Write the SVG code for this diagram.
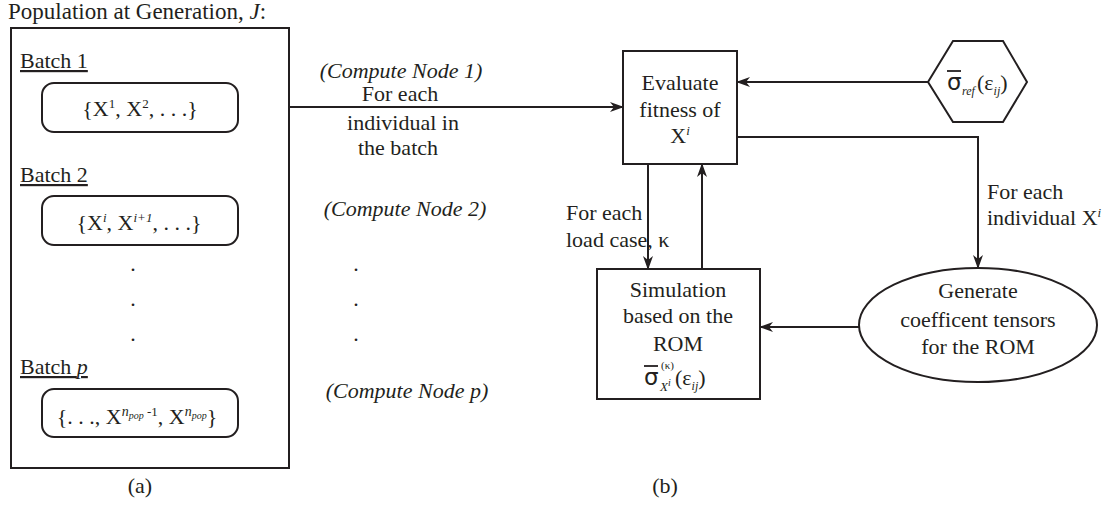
<svg xmlns="http://www.w3.org/2000/svg" width="1112" height="505" viewBox="0 0 1112 505">
<style>
text{font-family:"Liberation Serif","Times New Roman",serif;font-size:22px;fill:#231f20}
.c{text-anchor:middle}
.it{font-style:italic}
.sh{fill:none;stroke:#231f20;stroke-width:2}
.ln{fill:none;stroke:#231f20;stroke-width:2}
.arr{marker-end:url(#ah)}
.u{text-decoration:underline}
.sg{font-family:"DejaVu Sans",sans-serif;font-size:23px}
.s14{font-size:14px}
.s13{font-size:13px}
.s12{font-size:12px}
.s11{font-size:11px}
.s10{font-size:10px}
.s22{font-size:22px}
</style>
<defs>
<marker id="ah" viewBox="0 0 14 10" refX="13" refY="5" markerWidth="14" markerHeight="10" markerUnits="userSpaceOnUse" orient="auto">
<path d="M0,0 L14,5 L0,10 L4,5 z" fill="#231f20"/>
</marker>
</defs>
<text x="8" y="19" style="font-size:23px">Population at Generation, <tspan class="it">J</tspan>:</text>
<g id="population">
<rect class="sh" x="11" y="28" width="278" height="440"/>
<text x="20" y="68" class="u">Batch 1</text>
<text x="20" y="182" class="u">Batch 2</text>
<text x="20" y="374" class="u">Batch <tspan class="it">p</tspan></text>
<text x="133" y="271" class="c">.</text>
<text x="133" y="306" class="c">.</text>
<text x="133" y="341" class="c">.</text>
</g>
<g id="batch1">
<rect class="sh" x="42" y="83" width="196" height="49" rx="12"/>
<text x="140" y="116" class="c">{X<tspan dy="-8" class="s13">1</tspan><tspan dy="8">, X</tspan><tspan dy="-8" class="s13">2</tspan><tspan dy="8">, . . .}</tspan></text>
</g>
<g id="batch2">
<rect class="sh" x="42" y="196" width="196" height="49" rx="12"/>
<text x="139" y="230" class="c">{X<tspan dy="-8" class="s13 it">i</tspan><tspan dy="8">, X</tspan><tspan dy="-8" class="s13 it">i+1</tspan><tspan dy="8">, . . .}</tspan></text>
</g>
<g id="batchp">
<rect class="sh" x="42" y="389" width="196" height="48" rx="12"/>
<text x="137" y="424" class="c">{. . ., X<tspan dy="-8" class="s14 it">n</tspan><tspan dy="3" class="s10 it">pop</tspan><tspan dy="-3" class="s13"> -1</tspan><tspan dy="8">, X</tspan><tspan dy="-8" class="s14 it">n</tspan><tspan dy="3" class="s10 it">pop</tspan><tspan dy="5">}</tspan></text>
</g>
<text x="140" y="493" class="c">(a)</text>
<g id="labels">
<text x="401" y="78" class="c it">(Compute Node 1)</text>
<text x="400" y="101" class="c">For each</text>
<text x="403" y="130" class="c">individual in</text>
<text x="398" y="155" class="c">the batch</text>
<text x="405" y="216" class="c it">(Compute Node 2)</text>
<text x="356" y="271" class="c">.</text>
<text x="356" y="306" class="c">.</text>
<text x="356" y="341" class="c">.</text>
<text x="407" y="398" class="c it">(Compute Node p)</text>
<text x="566" y="220">For each</text>
<text x="566" y="247">load case, κ</text>
<text x="987" y="199">For each</text>
<text x="987" y="225">individual X<tspan dy="-8" class="s13 it">i</tspan></text>
</g>
<g id="connectors">
<line class="ln arr" x1="289" y1="107" x2="623" y2="107"/>
<line class="ln arr" x1="928" y1="82" x2="737" y2="82"/>
<path class="ln arr" d="M737,137 H978 V268"/>
<line class="ln arr" x1="859" y1="327" x2="760" y2="327"/>
<line class="ln arr" x1="648" y1="164" x2="648" y2="269"/>
<line class="ln arr" x1="702" y1="269" x2="702" y2="164"/>
</g>
<g id="evaluate">
<rect class="sh" x="623" y="51" width="114" height="113"/>
<text x="680" y="90" class="c">Evaluate</text>
<text x="680" y="117" class="c">fitness of</text>
<text x="680" y="143" class="c">X<tspan dy="-8" class="s13 it">i</tspan></text>
</g>
<g id="reference">
<polygon class="sh" points="928,82 953,41 1003,41 1027,82 1003,122 953,122"/>
<text x="947" y="90" class="sg">σ</text>
<line x1="947" y1="71" x2="961" y2="71" stroke="#231f20" stroke-width="1.8"/>
<text x="962" y="95" class="it s12">ref</text>
<text x="977" y="90">(<tspan class="s22">ε</tspan><tspan dy="5" class="s12 it">ij</tspan><tspan dy="-5">)</tspan></text>
</g>
<g id="generate">
<ellipse class="sh" cx="978" cy="325" rx="119" ry="57"/>
<text x="978" y="298" class="c">Generate</text>
<text x="978" y="327" class="c">coefficent tensors</text>
<text x="978" y="354" class="c">for the ROM</text>
</g>
<g id="simulation">
<rect class="sh" x="597" y="269" width="163" height="130"/>
<text x="678" y="297" class="c">Simulation</text>
<text x="678" y="323" class="c">based on the</text>
<text x="678" y="351" class="c">ROM</text>
<text x="644" y="385" class="sg">σ</text>
<line x1="644" y1="366" x2="658" y2="366" stroke="#231f20" stroke-width="1.8"/>
<text x="661" y="369" class="s11">(κ)</text>
<text x="660" y="391" class="it s13">X<tspan dy="-5" class="s10">i</tspan></text>
<text x="675" y="385">(<tspan class="s22">ε</tspan><tspan dy="5" class="s12 it">ij</tspan><tspan dy="-5">)</tspan></text>
</g>
<text x="665" y="493" class="c">(b)</text>
</svg>
